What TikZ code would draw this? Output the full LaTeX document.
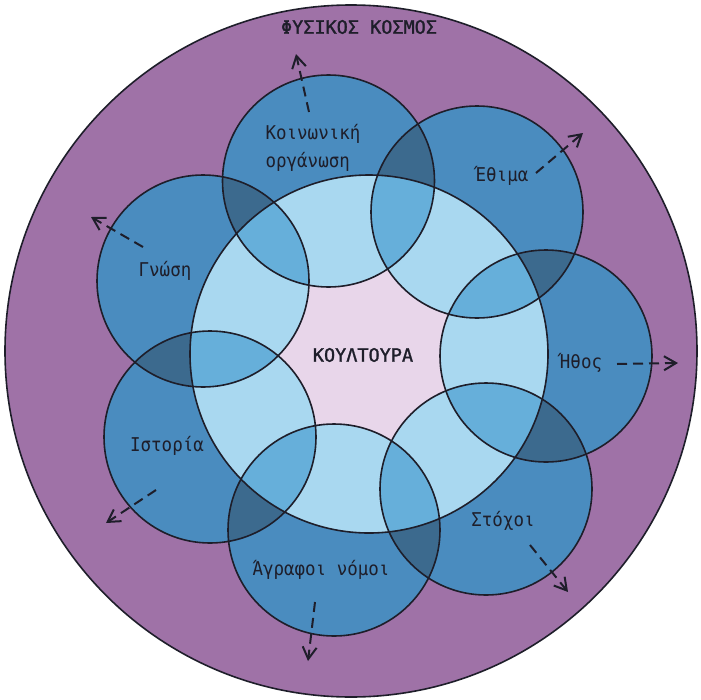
\documentclass[tikz,border=0pt]{standalone}
\usepackage{fontspec}
\usetikzlibrary{arrows.meta}
\newfontfamily\labelfont[FakeStretch=0.92]{DejaVu Sans Mono}
\newfontfamily\headfont[FakeBold=1.4]{DejaVu Sans Mono}

\definecolor{world}{HTML}{9F72A7}
\definecolor{petal}{HTML}{4A8CBF}
\definecolor{petaldark}{HTML}{3C6A8E}
\definecolor{ringlight}{HTML}{A9D8F0}
\definecolor{ringmid}{HTML}{66AFDA}
\definecolor{core}{HTML}{E8D6EA}
\definecolor{ink}{HTML}{1E1E2A}

\tikzset{
  outline/.style={draw=ink, line width=1.6pt},
  lbl/.style={font=\labelfont\fontsize{19}{28}\selectfont, text=ink, inner sep=0pt, align=left},
  title/.style={font=\headfont\fontsize{18.5}{22}\selectfont, text=ink, inner sep=0pt},
  outarrow/.style={draw=ink, line width=2pt, dash pattern=on 10pt off 6pt,
    -{Straight Barb[length=12pt,width=14pt,line width=2pt]}}
}

\begin{document}
\begin{tikzpicture}[x=1pt,y=-1pt]
\useasboundingbox (0,0) rectangle (701,699);

% centres of the world disc, the culture ring and the seven petals
\coordinate (W) at (351,351);
\coordinate (R) at (369,354);
\coordinate (cK) at (328.5,181);
\coordinate (cE) at (477,212);
\coordinate (cH) at (546,356);
\coordinate (cS) at (486,489);
\coordinate (cA) at (334,530);
\coordinate (cI) at (210,437);
\coordinate (cG) at (203,281);

\def\pr{106pt}
\def\rr{179pt}

% natural world
\fill[world] (W) circle[radius=346pt];
\draw[outline] (W) circle[radius=346pt];

% petals outside the ring
\foreach \c in {cK,cE,cH,cS,cA,cI,cG}
  \fill[petal] (\c) circle[radius=\pr];
\foreach \a/\b in {cK/cE,cE/cH,cH/cS,cS/cA,cA/cI,cI/cG,cG/cK}{
  \begin{scope}
    \clip (\a) circle[radius=\pr];
    \fill[petaldark] (\b) circle[radius=\pr];
  \end{scope}
}

% culture ring
\fill[core] (R) circle[radius=\rr];
\begin{scope}
  \clip (R) circle[radius=\rr];
  \foreach \c in {cK,cE,cH,cS,cA,cI,cG}
    \fill[ringlight] (\c) circle[radius=\pr];
  \foreach \a/\b in {cK/cE,cE/cH,cH/cS,cS/cA,cA/cI,cI/cG,cG/cK}{
    \begin{scope}
      \clip (\a) circle[radius=\pr];
      \fill[ringmid] (\b) circle[radius=\pr];
    \end{scope}
  }
\end{scope}

% outlines
\draw[outline] (R) circle[radius=\rr];
\foreach \c in {cK,cE,cH,cS,cA,cI,cG}
  \draw[outline] (\c) circle[radius=\pr];

% texts
\node[title] (world) at (359,27) {ΦΥΣΙΚΟΣ ΚΟΣΜΟΣ};
\node[title] (culture) at (363,355) {ΚΟΥΛΤΟΥΡΑ};
\node[lbl] (tK) at (313,148) {Κοινωνική\\οργάνωση};
\node[lbl] (tE) at (502,176) {Έθιμα};
\node[lbl] (tH) at (581,363) {Ήθος};
\node[lbl] (tS) at (503,521) {Στόχοι};
\node[lbl] (tA) at (321,570) {Άγραφοι νόμοι};
\node[lbl] (tI) at (167,446) {Ιστορία};
\node[lbl] (tG) at (165,271) {Γνώση};

% outward arrows
\coordinate (sK) at (309,112); \coordinate (eK) at (296,54);
\coordinate (sE) at (536,173); \coordinate (eE) at (583,133);
\coordinate (sH) at (617,364); \coordinate (eH) at (678,363);
\coordinate (sS) at (530,545); \coordinate (eS) at (568,592);
\coordinate (sA) at (315,602); \coordinate (eA) at (308,661);
\coordinate (sI) at (156,490); \coordinate (eI) at (106,523);
\coordinate (sG) at (143,247); \coordinate (eG) at (91,217);
\foreach \p in {K,E,H,S,A,I,G}
  \draw[outarrow] (s\p) -- (e\p);

\end{tikzpicture}
\end{document}
